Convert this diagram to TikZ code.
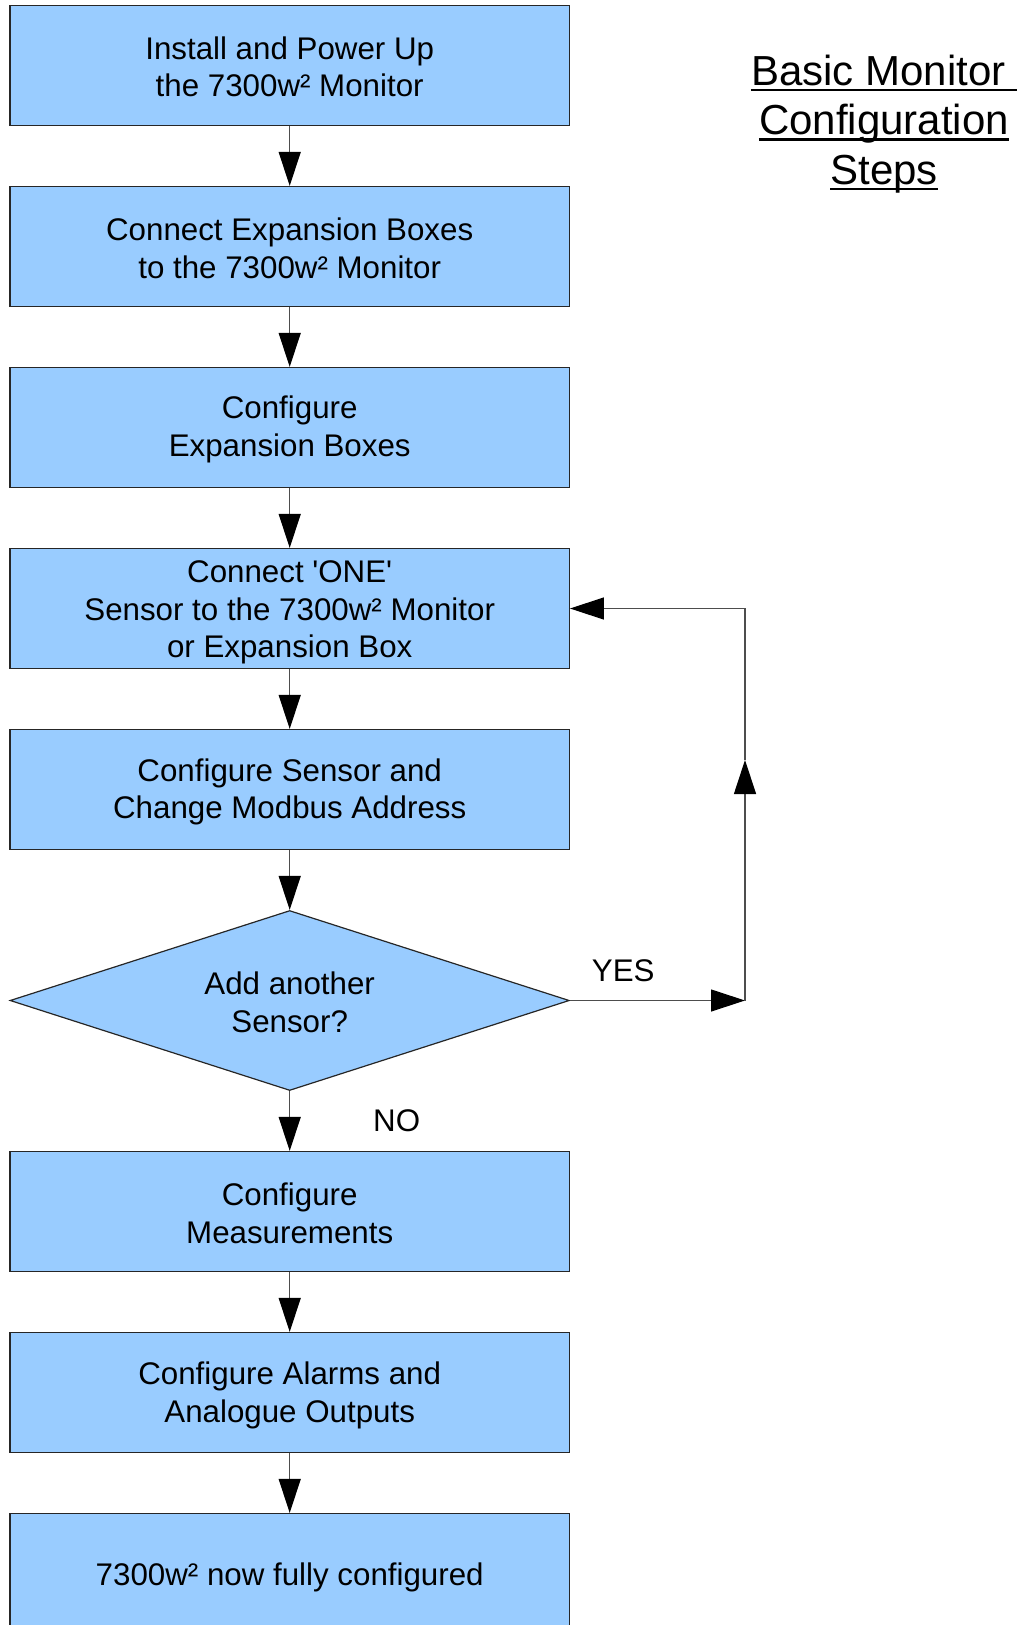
\documentclass[tikz,border=0pt]{standalone}
\usepackage{fontspec}
\setmainfont{Liberation Sans}[Ligatures=TeXOff]
\usetikzlibrary{arrows.meta,shapes.geometric}
\definecolor{boxblue}{HTML}{99CCFF}
\definecolor{linegray}{HTML}{4D4D4D}
\begin{document}
\begin{tikzpicture}[x=1pt,y=-1pt,
  stepbox/.style={rectangle, draw=black!85, line width=1.2pt, fill=boxblue,
    minimum width=559.3pt, minimum height=120pt, inner sep=0pt},
  decision/.style={diamond, shape aspect=3.1, draw=black!85, line width=1.2pt, fill=boxblue,
    minimum width=559.3pt, minimum height=180pt, inner sep=0pt},
  txt/.style={inner sep=0pt, align=center, font=\fontsize{31.3}{37.5}\selectfont},
  arr/.style={draw=linegray, line width=1.2pt, -{Triangle[length=34pt,width=22pt,color=black]}},
  lbl/.style={anchor=base west, inner sep=0pt, font=\fontsize{31.3}{37.5}\selectfont},
  ttl/.style={anchor=base, inner sep=0pt, font=\fontsize{42}{50}\selectfont},
  uline/.style={line width=2.5pt, black}
]
\useasboundingbox (0,0) rectangle (1018,1625);
\clip (0,0) rectangle (1018,1625);

\node[stepbox] (b1) at (289.7,65.5) {};
\node[stepbox] (b2) at (289.7,246.5) {};
\node[stepbox] (b3) at (289.7,427.5) {};
\node[stepbox] (b4) at (289.7,608.5) {};
\node[stepbox] (b5) at (289.7,789.5) {};
\node[decision] (d) at (289.7,1000.5) {};
\node[stepbox] (b6) at (289.7,1211.5) {};
\node[stepbox] (b7) at (289.7,1392.5) {};
\node[stepbox] (b8) at (289.7,1573.5) {};

\node[txt] (b1t) at ([yshift=-1.5pt]b1.center) {Install and Power Up\\the 7300w² Monitor};
\node[txt] (b2t) at ([yshift=-2pt]b2.center) {Connect Expansion Boxes\\to the 7300w² Monitor};
\node[txt] (b3t) at ([yshift=-2pt]b3.center) {Configure\\Expansion Boxes};
\node[txt] (b4t) at ([yshift=-4pt]b4.center) {Connect 'ONE'\\Sensor to the 7300w² Monitor\\or Expansion Box};
\node[txt] (b5t) at ([yshift=-2.5pt]b5.center) {Configure Sensor and\\Change Modbus Address};
\node[txt] (dt) at ([yshift=-2pt]d.center) {Add another\\Sensor?};
\node[txt] (b6t) at ([yshift=-2pt]b6.center) {Configure\\Measurements};
\node[txt] (b7t) at ([yshift=-3pt]b7.center) {Configure Alarms and\\Analogue Outputs};
\node[txt] (b8t) at ([yshift=-4pt]b8.center) {7300w² now fully configured};

\coordinate (c1) at (745,1000.5);
\coordinate (c2) at (745,760);

\draw[arr] (b1.south) -- (b2.north);
\draw[arr] (b2.south) -- (b3.north);
\draw[arr] (b3.south) -- (b4.north);
\draw[arr] (b4.south) -- (b5.north);
\draw[arr] (b5.south) -- (d.north);
\draw[arr] (d.south) -- (b6.north);
\draw[arr] (b6.south) -- (b7.north);
\draw[arr] (b7.south) -- (b8.north);
\draw[arr] (d.east) -- (c1);
\draw[arr] (c1) -- (c2);
\draw[arr] (c2) |- (b4.east);

\node[lbl] (yes) at (591.7,981) {YES};
\node[lbl] (no) at (373,1131.7) {NO};

\node[ttl] (t1) at (884,85) {Basic Monitor\hspace*{11.5pt}};
\node[ttl] (t2) at (884,134.5) {Configuration};
\node[ttl] (t3) at (884,184) {Steps};
\draw[uline] ([yshift=-5pt]t1.base west) -- ([yshift=-5pt]t1.base east);
\draw[uline] ([yshift=-5pt]t2.base west) -- ([yshift=-5pt]t2.base east);
\draw[uline] ([yshift=-5pt]t3.base west) -- ([yshift=-5pt]t3.base east);
\end{tikzpicture}
\end{document}
